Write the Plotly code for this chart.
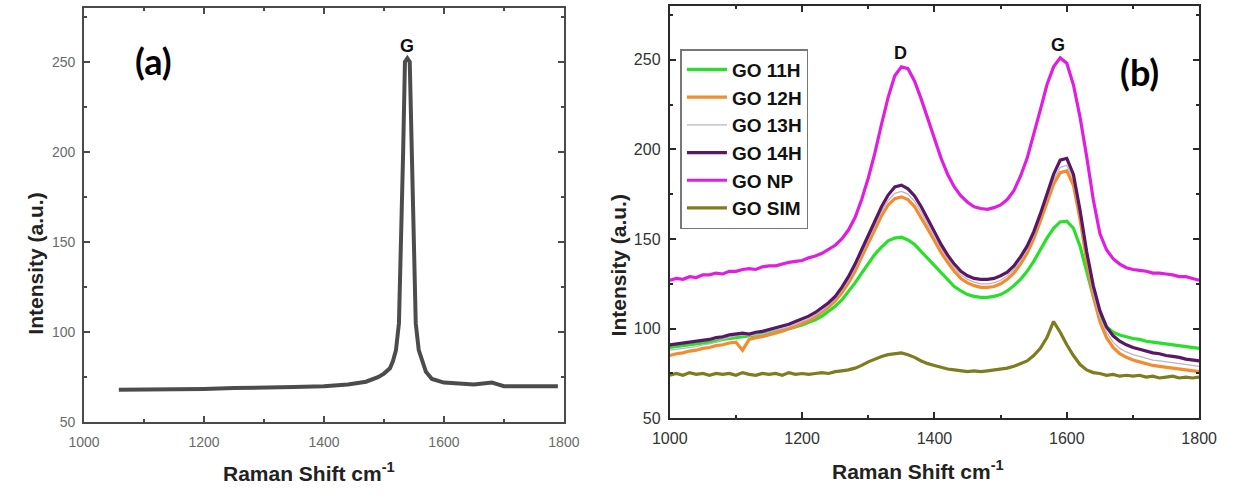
import plotly.graph_objects as go

# ---------------- data ----------------
# Panel (a): single spectrum
a_shift = [1058, 1100, 1150, 1200, 1250, 1300, 1350, 1400, 1440, 1470, 1490, 1500, 1510, 1515,
           1520, 1525, 1529, 1532, 1535, 1539, 1543, 1546, 1549, 1553, 1558, 1565, 1570, 1580,
           1600, 1650, 1670, 1680, 1690, 1700, 1750, 1790]
a_int = [68, 68, 68.5, 68.5, 69, 69, 69.5, 70, 71, 72.5, 75, 77, 80, 84,
         90, 105, 150, 200, 250, 252, 250, 200, 150, 105, 90, 82, 78, 74,
         72, 71, 71.5, 72, 71, 70, 70, 70]

# Panel (b): Raman shift grid (cm-1)
b_shift = list(range(1000, 1801, 10))

go_11h = [89.5, 90, 90.5, 91, 91.5, 92, 92.5, 93, 94, 94.5,
          95, 95.5, 96, 96.5, 97, 97.5, 98.5, 99, 100, 101,
          102, 103.5, 105, 107, 109.5, 112.5, 116, 120.5, 125.5, 131,
          136.5, 141.5, 145.5, 149, 150.5, 151, 149.5, 147, 143, 139,
          135, 131, 127, 123.5, 121, 119, 118, 117.5, 117.5, 118,
          119, 121, 124, 127.5, 132, 137.5, 144, 150.5, 156, 159.5,
          160, 156, 146, 132, 118, 108, 101, 98, 96.5, 95.5,
          94.5, 94, 93, 92.5, 92, 91.5, 91, 90.5, 90, 89.5, 89]

go_12h = [85, 86, 86.5, 87.5, 88, 89, 89.5, 90.5, 91, 92,
          92.5, 88, 94, 95, 95.5, 96.5, 97.5, 98.5, 100, 101,
          103, 104.5, 106.5, 109, 112, 115.5, 120, 125.5, 132, 140,
          148, 156, 163, 169, 172.5, 173.5, 172, 168, 162, 155.5,
          149, 142.5, 137, 132, 128, 125.5, 124, 123, 123, 123.5,
          125, 127.5, 131, 136, 142, 150, 160, 170.5, 180.5, 187,
          188, 180, 161, 138, 118, 104, 95, 89.5, 86, 84,
          82.5, 81.5, 80.5, 79.5, 79, 78.5, 78, 77.5, 77, 76.5, 76]

go_13h = [88, 88.5, 89, 89.5, 90, 91, 91.5, 92.5, 94, 95,
          96, 96.5, 96, 96.5, 97, 98, 99, 100, 101, 102.5,
          104, 105.5, 107.5, 110, 113, 116.5, 121.5, 127, 134, 142,
          150, 158, 165.5, 171.5, 175.5, 176.5, 175, 171, 165, 158,
          151, 145, 139, 134, 130, 127.5, 126, 125, 125, 125.5,
          127, 129.5, 133, 138, 144, 152, 162, 172.5, 183, 190,
          191, 183, 163, 140, 120, 106, 98, 92.5, 89, 87,
          85.5, 84.5, 83.5, 82.5, 82, 81.5, 81, 80.5, 80, 79.5, 79]

go_14h = [91, 91.5, 92, 92.5, 93, 93.5, 94, 95, 95.5, 96.5,
          97, 97.5, 97, 98, 98.5, 99.5, 100.5, 101.5, 102.5, 104,
          105.5, 107, 109, 111.5, 114.5, 118, 123, 129, 136, 144,
          152, 160, 168, 174.5, 179, 180, 178, 174, 168, 161,
          154, 147, 141, 136, 132, 129.5, 128, 127.5, 127.5, 128,
          129.5, 131.5, 135, 140, 146, 154, 164, 175, 186, 194,
          195, 186, 166, 143, 124, 110, 101, 96, 93, 91,
          89.5, 88.5, 87.5, 86.5, 86, 85, 84.5, 84, 83, 82.5, 82]

go_np = [127, 128, 127.5, 129, 128.5, 130, 130, 131, 130.5, 132,
         132, 133, 133.5, 133, 134.5, 135, 135, 136, 137, 137.5,
         138, 139.5, 140.5, 142, 144, 146.5, 150, 155, 162, 172,
         184, 198, 214, 229, 241, 246, 245, 238, 228, 217,
         205, 195, 186, 179, 174, 170.5, 168, 167, 166.5, 167.5,
         169, 172, 177, 185, 195, 208, 222, 236, 246, 251,
         248, 236, 218, 196, 172, 153, 144, 139, 136, 134,
         133, 132.5, 132, 131, 131, 130.5, 130, 129, 129, 128, 127]

go_sim = [74, 75, 74, 75.5, 74.5, 75, 74, 75, 74.5, 75,
          74, 75.5, 74.5, 74, 75, 74.5, 75, 74, 75.5, 74.5,
          75, 74.5, 75, 75.5, 75, 76, 76.5, 77, 78, 79.5,
          81.5, 83, 84.5, 85.5, 86, 86.5, 85.5, 84, 82, 80.5,
          79.5, 78.5, 77.5, 77, 76.5, 76, 76.5, 76, 76.5, 77,
          77.5, 78, 79, 80.5, 82, 85, 89, 95, 104, 98,
          91, 85, 80, 77, 75.5, 75, 74, 74.5, 73.5, 74,
          73.5, 74, 73, 73.5, 72.5, 73, 73.5, 72.5, 73, 72.5, 73]

series_names = ["GO 11H", "GO 12H", "GO 13H", "GO 14H", "GO NP", "GO SIM"]
series_values = [go_11h, go_12h, go_13h, go_14h, go_np, go_sim]
series_colors = ["#27e027", "#f28c2e", "#b9b4c8", "#5a1766", "#e01ee0", "#7d7d1e"]
series_widths = [3.2, 3.2, 1.3, 3.2, 3.2, 3.2]

x_ticks = [1000, 1200, 1400, 1600, 1800]
y_ticks = [50, 100, 150, 200, 250]

# ---------------- figure ----------------
fig = go.Figure()

fig.add_trace(go.Scatter(x=a_shift, y=a_int, mode="lines", showlegend=False,
                         line=dict(color="rgba(45,45,45,0.85)", width=4),
                         xaxis="x", yaxis="y"))

for name, vals, col, w in zip(series_names, series_values, series_colors, series_widths):
    fig.add_trace(go.Scatter(x=b_shift, y=vals, mode="lines", name=name,
                             line=dict(color=col, width=w),
                             xaxis="x2", yaxis="y2"))

W, H = 1256, 499
def px_x(p):
    return p / W
def px_y(p):
    return 1 - p / H

axis_common = dict(showgrid=False, zeroline=False, showline=True, linewidth=2,
                   mirror="ticks", ticks="inside", ticklen=6, tickwidth=1.5)

fig.update_layout(
    width=W, height=H, margin=dict(l=0, r=0, t=0, b=0),
    paper_bgcolor="white", plot_bgcolor="white",
    font=dict(family="Liberation Sans, Arial, sans-serif"),
    xaxis=dict(domain=[px_x(68), px_x(562)], range=[1000, 1800], anchor="y",
               tickvals=x_ticks, linecolor="#4a4a4a", tickcolor="#4a4a4a",
               minor=dict(dtick=100, ticks="inside", ticklen=3, tickcolor="#4a4a4a"),
               tickfont=dict(size=14, color="#6a6a6a"), ticklabelstandoff=6,
               **axis_common),
    yaxis=dict(domain=[px_y(430), px_y(8)], range=[50, 280], anchor="x",
               tickvals=y_ticks, linecolor="#4a4a4a", tickcolor="#4a4a4a",
               minor=dict(dtick=25, ticks="inside", ticklen=3, tickcolor="#4a4a4a"),
               tickfont=dict(size=14, color="#6a6a6a"), ticklabelstandoff=4,
               **axis_common),
    xaxis2=dict(domain=[px_x(671), px_x(1216)], range=[1000, 1800], anchor="y2",
                tickvals=x_ticks, linecolor="#2a2a2a", tickcolor="#2a2a2a",
                minor=dict(dtick=100, ticks="inside", ticklen=3, tickcolor="#2a2a2a"),
                tickfont=dict(size=16, color="#333333"), ticklabelstandoff=4,
                **axis_common),
    yaxis2=dict(domain=[px_y(426), px_y(6)], range=[50, 280], anchor="x2",
                tickvals=y_ticks, linecolor="#2a2a2a", tickcolor="#2a2a2a",
                minor=dict(dtick=25, ticks="inside", ticklen=3, tickcolor="#2a2a2a"),
                tickfont=dict(size=16, color="#333333"), ticklabelstandoff=4,
                **axis_common),
    legend=dict(x=px_x(682), y=px_y(50), xanchor="left", yanchor="top",
                bgcolor="white", bordercolor="#777777", borderwidth=1.5,
                font=dict(size=19, color="#111111", family="Liberation Sans, Arial, sans-serif",
                          weight="bold"),
                tracegroupgap=0, itemwidth=40),
)

title_font = dict(size=21, color="#222222", family="Liberation Sans, Arial, sans-serif",
                  weight="bold")
ann = [
    dict(text="Intensity (a.u.)", x=px_x(18), y=px_y(268), textangle=-90, font=title_font),
    dict(text="Intensity (a.u.)", x=px_x(618), y=px_y(270), textangle=-90, font=title_font),
    dict(text="Raman Shift cm<sup>-1</sup>", x=px_x(300), y=px_y(481), font=title_font),
    dict(text="Raman Shift cm<sup>-1</sup>", x=px_x(927), y=px_y(479), font=title_font),
    dict(text="(a)", x=px_x(140), y=px_y(62),
         font=dict(size=36, color="black", family="Lato, sans-serif", weight="bold")),
    dict(text="(b)", x=px_x(1155), y=px_y(73),
         font=dict(size=36, color="black", family="Lato, sans-serif", weight="bold")),
]
for a in ann:
    fig.add_annotation(xref="paper", yref="paper", showarrow=False,
                       xanchor="center", yanchor="middle", **a)

peak_font = dict(size=18, color="#111111", family="Liberation Sans, Arial, sans-serif",
                 weight="bold")
fig.add_annotation(xref="x", yref="y", x=1539, y=259, text="G", showarrow=False, font=peak_font)
fig.add_annotation(xref="x2", yref="y2", x=1349, y=254, text="D", showarrow=False, font=peak_font)
fig.add_annotation(xref="x2", yref="y2", x=1587, y=258, text="G", showarrow=False, font=peak_font)

fig.write_html("out.html")
